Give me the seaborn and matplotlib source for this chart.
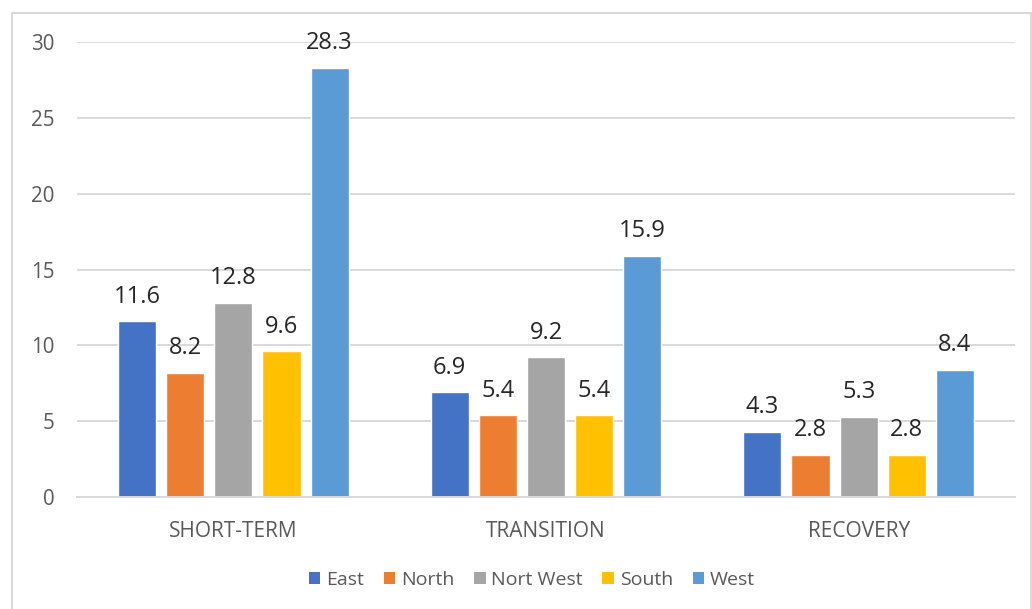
import matplotlib
matplotlib.use("Agg")
import matplotlib.pyplot as plt
from matplotlib.patches import Rectangle, Patch
import pandas as pd
import seaborn as sns

# Phase categories and regional values
phases = ["SHORT-TERM", "TRANSITION", "RECOVERY"]
regions = ["East", "North", "Nort West", "South", "West"]
east = [11.6, 6.9, 4.3]
north = [8.2, 5.4, 2.8]
nort_west = [12.8, 9.2, 5.3]
south = [9.6, 5.4, 2.8]
west = [28.3, 15.9, 8.4]
y_ticks = [0, 5, 10, 15, 20, 25, 30]

colors = ["#4472C4", "#ED7D31", "#A5A5A5", "#FFC000", "#5B9BD5"]

series = [east, north, nort_west, south, west]
df = pd.DataFrame(
    [(p, r, v) for r, vals in zip(regions, series) for p, v in zip(phases, vals)],
    columns=["phase", "region", "value"],
)

sns.set_theme(style="white")
plt.rcParams["font.family"] = ["Open Sans", "DejaVu Sans"]

fig = plt.figure(figsize=(10.32, 6.09), dpi=100)
ax = fig.add_axes([77 / 1032, 1 - 497 / 609, (1015 - 77) / 1032, (497 - 42) / 609])

sns.barplot(
    data=df, x="phase", y="value", hue="region",
    order=phases, hue_order=regions, palette=colors,
    width=0.77, gap=0.21, saturation=1, errorbar=None, legend=False, ax=ax,
)

for cont in ax.containers:
    ax.bar_label(cont, fmt="%.1f", padding=9, fontsize=17, color="#262626")

ax.set_ylim(0, 30)
ax.set_xlim(-0.5, 2.5)
ax.set_yticks(y_ticks)
ax.yaxis.grid(True, color="#d9d9d9", linewidth=1.4)
ax.set_axisbelow(True)
for side in ["left", "right", "top"]:
    ax.spines[side].set_visible(False)
ax.spines["bottom"].set_color("#d9d9d9")
ax.spines["bottom"].set_linewidth(1.4)
ax.tick_params(axis="y", length=0, pad=16, labelsize=14.8, labelcolor="#595959")
ax.tick_params(axis="x", length=0, pad=17.5, labelsize=15, labelcolor="#595959")
ax.set_xlabel("")
ax.set_ylabel("")

handles = [Patch(facecolor=c, edgecolor="none") for c in colors]
fig.legend(
    handles, regions, loc="center", bbox_to_anchor=(532 / 1032, 1 - 580 / 609),
    ncol=5, frameon=False, fontsize=14, labelcolor="#595959",
    handlelength=0.6, handleheight=0.6, handletextpad=0.3, columnspacing=1.0,
)

# Light chart-area border
fig.patches.append(Rectangle(
    (12 / 1032, -0.05), (1031 - 12) / 1032, 1 - 13 / 609 + 0.05,
    transform=fig.transFigure, fill=False, edgecolor="#d9d9d9", linewidth=1.5,
))

fig.savefig("out.png", dpi=100)
